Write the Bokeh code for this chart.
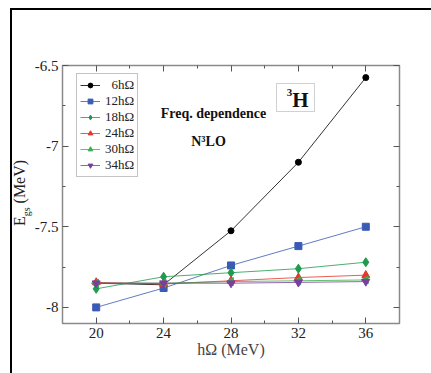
import math
from bokeh.plotting import figure
from bokeh.layouts import row
from bokeh.models import (FixedTicker, PrintfTickFormatter, CustomJSTickFormatter, LinearAxis,
                          Legend, LegendItem, Label, BoxAnnotation, Range1d, Div)
from bokeh.embed import file_html
from bokeh.resources import INLINE

# Oscillator frequency (MeV) and ground-state energies (MeV) of 3H per model space
hw = [20, 24, 28, 32, 36]
e_6 = [-7.85, -7.86, -7.525, -7.10, -6.575]
e_12 = [-8.00, -7.88, -7.74, -7.62, -7.50]
e_18 = [-7.885, -7.81, -7.785, -7.76, -7.72]
e_24 = [-7.845, -7.855, -7.835, -7.815, -7.80]
e_30 = [-7.85, -7.85, -7.84, -7.835, -7.83]
e_34 = [-7.85, -7.85, -7.85, -7.845, -7.84]

series_labels = ["\u20076hΩ", "12hΩ", "18hΩ", "24hΩ", "30hΩ", "34hΩ"]
x_ticks = [20, 24, 28, 32, 36]
x_minor = [22, 26, 30, 34]
y_ticks = [-8.0, -7.5, -7.0, -6.5]
y_minor = [-7.75, -7.25, -6.75]

SERIF = "Liberation Serif"
GRAY = "#8a8a8a"
LEFT_W = 30  # width of the strip holding the y-axis title

p = figure(width=431 - LEFT_W, height=373, output_backend="svg", toolbar_location=None,
           x_range=Range1d(18, 38), y_range=Range1d(-8.1, -6.5),
           min_border_left=62 - LEFT_W, min_border_right=32,
           min_border_top=65, min_border_bottom=50, margin=0)
p.xgrid.visible = False
p.ygrid.visible = False
p.outline_line_color = GRAY
p.outline_line_width = 1.5
p.background_fill_color = "white"
p.border_fill_alpha = 0

def style_axis(ax, ticks, minor, labels=True):
    ax.ticker = FixedTicker(ticks=ticks, minor_ticks=minor)
    ax.axis_line_color = None
    ax.major_tick_in = 6
    ax.major_tick_out = 0
    ax.minor_tick_in = 3
    ax.minor_tick_out = 0
    ax.major_tick_line_color = "#555555"
    ax.minor_tick_line_color = "#555555"
    ax.major_label_text_font = SERIF
    ax.major_label_text_font_size = "15px"
    ax.major_label_text_color = "#222222"
    ax.major_label_standoff = 4
    if labels:
        ax.formatter = PrintfTickFormatter(format="%g")
    else:
        ax.formatter = CustomJSTickFormatter(code="return ''")
        ax.major_label_standoff = 0

style_axis(p.xaxis[0], x_ticks, x_minor)
style_axis(p.yaxis[0], y_ticks, y_minor)
p.xaxis[0].axis_label = "hΩ (MeV)"
p.xaxis[0].axis_label_text_font = SERIF
p.xaxis[0].axis_label_text_font_style = "normal"
p.xaxis[0].axis_label_text_font_size = "16px"
p.xaxis[0].axis_label_standoff = 0

top_ax = LinearAxis()
right_ax = LinearAxis()
style_axis(top_ax, x_ticks, x_minor, labels=False)
style_axis(right_ax, y_ticks, y_minor, labels=False)
p.add_layout(top_ax, "above")
p.add_layout(right_ax, "right")

series = [
    (e_6, "black", "circle", 6, 0.0),
    (e_12, "#3a5bb5", "square", 7, 0.0),
    (e_18, "#1f9a4e", "diamond", 9, 0.0),
    (e_24, "#e8352a", "triangle", 8, 0.0),
    (e_30, "#3bb04a", "triangle", 8, math.pi / 2),
    (e_34, "#7a3f9e", "inverted_triangle", 8, 0.0),
]

items = []
for (vals, color, marker, size, ang), lab in zip(series, series_labels):
    lr = p.line(hw, vals, line_color=color, line_width=1, line_alpha=0.8)
    sr = p.scatter(hw, vals, marker=marker, size=size, angle=ang,
                   fill_color=color, line_color=color)
    items.append(LegendItem(label=lab, renderers=[lr, sr]))

legend = Legend(items=items, location=(14, 146), orientation="vertical",
                label_text_font=SERIF, label_text_font_size="13px",
                label_text_color="#222222", label_standoff=5,
                glyph_width=20, glyph_height=12, label_height=12,
                spacing=0, padding=3, margin=0,
                border_line_color=GRAY, border_line_width=1,
                background_fill_color="white", background_fill_alpha=1)
p.add_layout(legend, "center")

# Annotations inside the plot (canvas pixels of the figure)
def cx(x):
    return x - LEFT_W

p.add_layout(Label(x=cx(213), y=113, x_units="canvas", y_units="canvas", text="Freq. dependence",
                   text_font=SERIF, text_font_style="bold", text_font_size="14px",
                   text_align="center", text_baseline="middle", text_color="#111111"))
p.add_layout(Label(x=cx(208), y=141, x_units="canvas", y_units="canvas", text="N\u00b3LO",
                   text_font=SERIF, text_font_style="bold", text_font_size="14px",
                   text_align="center", text_baseline="middle", text_color="#111111"))
p.add_layout(BoxAnnotation(left=cx(276), right=cx(314), top=83, bottom=111,
                           left_units="canvas", right_units="canvas",
                           top_units="canvas", bottom_units="canvas",
                           fill_color="white", fill_alpha=1, line_color="#666666", line_width=1))
p.add_layout(Label(x=cx(300), y=99, x_units="canvas", y_units="canvas", text="H",
                   text_font=SERIF, text_font_style="bold", text_font_size="21px",
                   text_align="center", text_baseline="middle", text_color="#111111"))
p.add_layout(Label(x=cx(289), y=92, x_units="canvas", y_units="canvas", text="3",
                   text_font=SERIF, text_font_style="bold", text_font_size="11px",
                   text_align="center", text_baseline="middle", text_color="#111111"))

# Left strip: outer panel frame and the rotated y-axis title with subscript
side = Div(width=LEFT_W, height=373, margin=0, text=(
    '<div style="position:absolute;left:10px;top:8px;width:2000px;height:2000px;'
    'border-left:2px solid #000;border-top:2px solid #000;pointer-events:none;"></div>'
    '<div style="position:absolute;left:22px;top:193px;white-space:nowrap;'
    'transform:translate(-50%,-50%) rotate(-90deg);font-family:\'Liberation Serif\';'
    'font-size:16px;color:#222;line-height:1;">E<sub style="font-size:10px;">gs</sub> (MeV)</div>'
))

layout = row(side, p, spacing=0, margin=0)
open("out.html", "w").write(file_html(layout, INLINE))
